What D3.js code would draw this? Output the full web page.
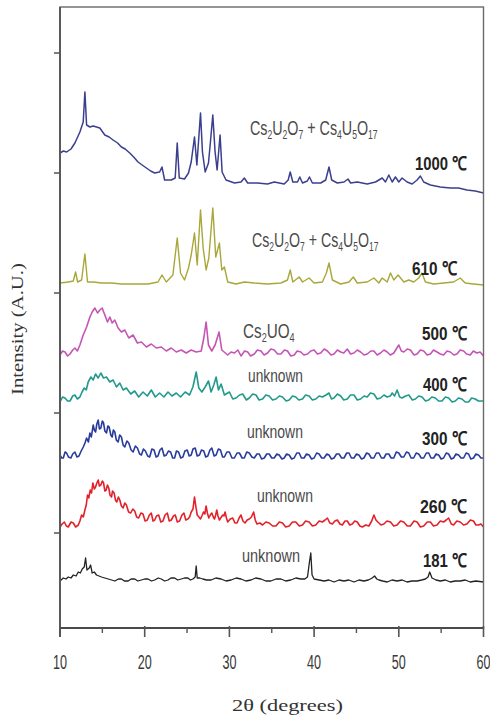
<!DOCTYPE html>
<html>
<head>
<meta charset="utf-8">
<script src="https://cdn.jsdelivr.net/npm/d3@7"></script>
<style>
  body { margin: 0; background: #fff; }
  svg { display: block; }
</style>
</head>
<body>
<div id="chart"></div>
<script>
// XRD patterns, 2theta (deg) vs intensity above each pattern's own baseline (a.u.)
var d1000 = [[10.0,32],[10.4,34],[10.78,33],[11.3,36],[11.76,42],[12.35,53],[12.74,63],[12.94,93],[13.14,60],[13.53,58],[13.92,59],[14.31,58],[14.7,57],[15.29,50],[15.8,48],[16.27,45],[16.8,42],[17.25,38],[17.7,36],[18.23,32],[18.7,28],[19.21,23],[19.7,20],[20.2,17],[20.7,14],[21.18,12],[21.76,13],[22.04,18],[22.35,5],[23.14,5],[23.6,7],[23.84,42],[24.08,7],[24.7,6],[25.17,12],[25.49,23],[25.88,48],[26.16,20],[26.35,43],[26.59,72],[26.82,33],[27.14,13],[27.53,22],[27.76,43],[28.04,70],[28.31,33],[28.55,15],[28.9,50],[29.14,13],[29.6,5],[30.6,2],[31.37,3],[31.76,7],[32.16,2],[33.33,2],[34.5,1],[35.3,3],[36.47,1],[36.94,5],[37.18,13],[37.49,3],[38.04,3],[38.31,8],[38.63,2],[39.2,4],[39.45,8],[39.8,2],[40.78,2],[41.37,5],[41.76,18],[42.08,5],[42.74,2],[43.53,3],[44.0,6],[44.31,2],[45.1,3],[46.27,1],[47.25,3],[48.04,7],[48.43,3],[48.82,10],[49.22,3],[49.6,8],[50.0,3],[50.39,7],[50.98,3],[51.57,1],[52.16,5],[52.55,9],[52.94,3],[53.73,0],[54.9,-2],[56.08,-3],[57.06,-3],[58.04,-5],[59.02,-6],[60,-8]];

var d610 = [[10.0,2],[10.98,3],[11.57,4],[11.84,13],[12.08,3],[12.55,5],[12.94,31],[13.25,3],[13.92,3],[14.9,2],[16.08,2],[17.25,1],[18.82,1],[20.39,1],[21.57,3],[22.04,10],[22.55,3],[23.33,10],[23.84,47],[24.23,12],[24.7,5],[25.17,17],[25.49,30],[25.88,52],[26.2,20],[26.59,75],[26.9,37],[27.25,15],[27.57,27],[28.04,77],[28.39,28],[28.82,42],[29.1,15],[29.41,18],[29.8,3],[30.78,1],[31.76,3],[32.94,2],[34.5,1],[36.08,2],[36.86,5],[37.18,15],[37.49,3],[38.24,8],[38.63,3],[39.41,7],[40.0,2],[40.98,3],[41.45,12],[41.76,22],[42.16,5],[43.14,1],[44.12,3],[44.63,8],[45.1,2],[46.27,3],[47.06,7],[47.65,2],[48.04,7],[48.63,3],[49.02,12],[49.41,5],[49.92,10],[50.59,3],[51.18,5],[51.76,3],[52.35,7],[52.74,12],[53.14,3],[54.12,1],[55.29,2],[56.47,3],[57.25,7],[57.84,2],[58.82,1],[60,0]];

var d500 = [[10.0,0],[10.3,4],[10.59,3],[10.9,-1],[11.18,1],[11.5,5],[11.76,7],[12.05,4],[12.35,10],[12.74,20],[13.14,28],[13.53,38],[13.8,43],[14.12,47],[14.43,42],[14.7,45],[14.98,47],[15.29,40],[15.61,33],[15.88,38],[16.16,32],[16.47,35],[16.86,27],[17.25,23],[17.65,25],[18.12,17],[18.63,20],[19.14,12],[19.61,13],[20.2,8],[20.78,11],[21.37,7],[21.96,8],[22.55,4],[23.14,7],[23.73,3],[24.31,5],[24.9,2],[25.49,5],[26.08,3],[26.67,4],[26.98,17],[27.25,33],[27.53,10],[27.92,4],[28.31,10],[28.78,23],[29.1,5],[29.8,0],[30.2,3],[30.59,2],[31.0,5],[31.37,-1],[31.8,4],[32.16,3],[32.5,-1],[32.94,1],[33.3,5],[33.73,4],[34.1,0],[34.5,2],[34.9,6],[35.29,5],[35.7,1],[36.08,1],[36.5,5],[36.86,4],[37.25,-1],[37.65,0],[38.0,4],[38.43,3],[38.8,0],[39.22,1],[39.6,4],[40.0,5],[40.4,1],[40.78,2],[41.2,6],[41.57,4],[42.0,0],[42.35,1],[42.75,5],[43.14,3],[43.5,2],[43.92,6],[44.3,1],[44.7,2],[45.1,5],[45.49,3],[45.9,0],[46.27,1],[46.7,4],[47.06,4],[47.45,0],[47.84,2],[48.25,5],[48.63,3],[49.0,0],[49.41,2],[49.7,6],[50.0,10],[50.3,4],[50.59,3],[51.0,6],[51.37,5],[51.8,0],[52.16,1],[52.55,5],[52.94,4],[53.35,0],[53.73,1],[54.1,5],[54.51,3],[54.9,1],[55.29,0],[55.7,4],[56.08,3],[56.5,0],[56.86,1],[57.25,5],[57.65,4],[58.0,1],[58.43,0],[58.8,4],[59.22,2],[59.6,3],[60,-1]];

var d400 = [[10.0,-2],[10.3,3],[10.59,2],[10.9,-1],[11.18,-1],[11.5,4],[11.76,5],[12.05,1],[12.35,3],[12.6,8],[12.86,12],[13.1,10],[13.33,18],[13.65,23],[13.92,20],[14.2,26],[14.51,22],[14.82,27],[15.14,22],[15.49,23],[15.88,18],[16.27,20],[16.67,13],[17.06,17],[17.45,10],[17.84,12],[18.35,6],[18.82,9],[19.29,3],[19.8,8],[20.31,4],[20.78,10],[21.25,3],[21.76,7],[22.27,3],[22.75,8],[23.22,4],[23.73,7],[24.23,3],[24.78,8],[25.29,5],[25.69,13],[26.08,28],[26.39,12],[26.75,8],[27.14,13],[27.53,19],[27.84,8],[28.16,15],[28.43,23],[28.71,10],[29.02,16],[29.41,5],[30.0,8],[30.4,1],[30.78,2],[31.2,5],[31.57,6],[32.0,0],[32.35,2],[32.75,6],[33.14,5],[33.5,0],[33.92,1],[34.3,5],[34.7,4],[35.1,0],[35.49,1],[35.9,4],[36.27,3],[36.7,-1],[37.06,0],[37.45,4],[37.84,3],[38.2,0],[38.63,1],[39.0,5],[39.41,4],[39.8,0],[40.2,1],[40.6,4],[40.98,3],[41.4,5],[41.76,7],[42.05,1],[42.35,2],[42.75,6],[43.14,4],[43.5,0],[43.92,1],[44.3,5],[44.71,5],[45.1,0],[45.49,1],[45.9,4],[46.27,3],[46.65,7],[47.06,6],[47.45,1],[47.84,2],[48.25,5],[48.63,3],[49.0,4],[49.22,7],[49.5,4],[49.8,10],[50.1,3],[50.39,2],[50.8,4],[51.18,5],[51.6,0],[51.96,1],[52.35,4],[52.75,3],[53.15,-1],[53.53,0],[53.9,3],[54.31,2],[54.7,-1],[55.1,-1],[55.5,3],[55.88,2],[56.3,-2],[56.67,-1],[57.05,2],[57.45,1],[57.85,-2],[58.24,-2],[58.6,2],[59.02,1],[59.4,-1],[60,-1]];

var d300 = [[10.0,2],[10.2,-1],[10.39,-1],[10.6,5],[10.78,4],[11.0,0],[11.29,-1],[11.5,3],[11.76,5],[12.0,0],[12.24,1],[12.5,6],[12.75,10],[12.95,14],[13.14,19],[13.35,15],[13.53,24],[13.7,20],[13.92,32],[14.05,27],[14.2,25],[14.35,33],[14.51,37],[14.65,28],[14.82,29],[15.0,36],[15.14,34],[15.3,26],[15.49,24],[15.65,31],[15.8,30],[16.0,22],[16.16,20],[16.3,27],[16.47,25],[16.65,17],[16.86,15],[17.05,22],[17.25,20],[17.45,12],[17.65,10],[17.9,16],[18.12,14],[18.4,7],[18.63,5],[18.9,11],[19.14,9],[19.4,3],[19.61,2],[19.85,8],[20.08,6],[20.35,1],[20.59,0],[20.85,8],[21.1,7],[21.35,0],[21.57,1],[21.8,7],[22.04,9],[22.3,1],[22.55,2],[22.8,6],[23.06,5],[23.3,-1],[23.53,-1],[23.75,6],[24.0,5],[24.25,-1],[24.51,0],[24.75,6],[25.02,7],[25.25,1],[25.49,2],[25.7,8],[25.96,9],[26.2,1],[26.47,2],[26.7,7],[26.98,6],[27.2,0],[27.45,1],[27.7,7],[27.92,9],[28.2,1],[28.43,2],[28.7,8],[28.94,7],[29.2,0],[29.41,0],[29.7,5],[30.0,5],[30.3,-1],[30.59,-1],[30.9,4],[31.18,4],[31.5,-1],[31.76,-1],[32.05,5],[32.35,4],[32.65,0],[32.94,-1],[33.25,3],[33.53,3],[33.8,-2],[34.12,-1],[34.4,3],[34.7,3],[35.0,-1],[35.29,-1],[35.6,3],[35.88,2],[36.2,-2],[36.47,-1],[36.75,3],[37.06,2],[37.35,-2],[37.65,-1],[37.95,4],[38.24,4],[38.5,-1],[38.82,-1],[39.1,3],[39.41,2],[39.7,-2],[40.0,-1],[40.3,4],[40.59,3],[40.9,-1],[41.18,-1],[41.5,3],[41.76,2],[42.05,-2],[42.35,-1],[42.65,3],[42.94,3],[43.25,-1],[43.53,-1],[43.85,4],[44.12,4],[44.4,-1],[44.71,-1],[45.0,3],[45.29,2],[45.6,-2],[45.88,-1],[46.2,4],[46.47,3],[46.75,-1],[47.06,-1],[47.35,4],[47.65,4],[47.95,-1],[48.24,-1],[48.5,3],[48.82,3],[49.1,-1],[49.41,-1],[49.7,5],[50.0,4],[50.3,0],[50.59,0],[50.9,5],[51.18,4],[51.45,-1],[51.76,-1],[52.05,4],[52.35,3],[52.65,-1],[52.94,-1],[53.25,4],[53.53,4],[53.8,-1],[54.12,-1],[54.4,3],[54.71,2],[55.0,-2],[55.29,-1],[55.6,4],[55.88,3],[56.2,-2],[56.47,-1],[56.75,3],[57.06,2],[57.35,-1],[57.65,-1],[57.95,4],[58.24,3],[58.5,-2],[58.82,-1],[59.1,3],[59.41,2],[59.7,-1],[60,-1]];

var d260 = [[10.0,0],[10.25,3],[10.51,5],[10.75,1],[10.98,0],[11.3,5],[11.57,4],[11.85,0],[12.16,2],[12.35,6],[12.55,12],[12.75,10],[12.94,17],[13.1,22],[13.25,32],[13.4,29],[13.57,37],[13.72,34],[13.88,44],[14.05,38],[14.2,40],[14.35,44],[14.51,47],[14.65,41],[14.82,42],[15.0,46],[15.14,44],[15.3,36],[15.45,37],[15.6,42],[15.76,39],[15.9,32],[16.08,30],[16.2,36],[16.39,34],[16.55,27],[16.7,25],[16.9,30],[17.06,27],[17.25,21],[17.45,19],[17.65,24],[17.84,22],[18.1,15],[18.35,14],[18.6,18],[18.82,16],[19.05,10],[19.29,9],[19.55,14],[19.8,13],[20.05,6],[20.31,7],[20.55,12],[20.78,14],[20.98,6],[21.18,7],[21.4,11],[21.65,12],[21.9,5],[22.16,6],[22.4,12],[22.67,14],[22.9,6],[23.14,7],[23.4,11],[23.61,12],[23.85,5],[24.12,6],[24.4,12],[24.63,14],[24.85,7],[25.1,8],[25.3,10],[25.49,15],[25.7,18],[25.88,30],[26.05,20],[26.2,12],[26.4,10],[26.59,8],[26.75,11],[26.94,15],[27.1,13],[27.25,21],[27.4,14],[27.57,9],[27.75,12],[27.92,14],[28.1,10],[28.24,8],[28.38,12],[28.51,17],[28.65,11],[28.82,7],[29.05,10],[29.22,12],[29.35,11],[29.49,15],[29.65,9],[29.8,5],[30.1,8],[30.39,9],[30.65,4],[30.9,4],[31.15,9],[31.37,12],[31.6,6],[31.84,4],[32.1,7],[32.35,8],[32.6,10],[32.86,15],[33.05,7],[33.25,3],[33.6,4],[33.92,2],[34.3,5],[34.7,4],[35.1,1],[35.49,1],[35.9,5],[36.27,4],[36.65,0],[37.06,1],[37.45,5],[37.84,5],[38.25,1],[38.63,2],[39.0,6],[39.41,5],[39.8,1],[40.2,2],[40.6,6],[40.98,5],[41.3,7],[41.57,9],[41.85,4],[42.16,3],[42.45,6],[42.75,7],[43.05,3],[43.33,2],[43.65,6],[43.92,6],[44.2,2],[44.51,3],[44.8,6],[45.1,5],[45.4,1],[45.69,0],[46.1,2],[46.47,1],[46.8,6],[47.06,12],[47.3,7],[47.53,5],[47.9,2],[48.24,3],[48.6,6],[49.02,5],[49.4,1],[49.8,2],[50.2,6],[50.59,5],[51.0,1],[51.37,1],[51.8,6],[52.16,5],[52.55,0],[52.94,1],[53.35,5],[53.73,5],[54.1,1],[54.51,2],[54.9,6],[55.29,5],[55.6,7],[55.88,9],[56.2,3],[56.47,2],[56.85,6],[57.25,5],[57.65,2],[58.04,3],[58.45,7],[58.82,6],[59.1,2],[59.41,2],[59.7,3],[60,0]];

var d181 = [[10.0,0],[10.39,3],[10.7,2],[10.98,4],[11.3,3],[11.57,6],[11.9,5],[12.16,9],[12.4,8],[12.63,12],[12.86,14],[13.02,23],[13.18,11],[13.45,13],[13.61,16],[13.8,8],[14.05,9],[14.31,6],[14.6,5],[14.9,4],[15.3,3],[15.69,2],[16.1,1],[16.47,0],[16.9,2],[17.25,2],[17.6,0],[18.04,0],[18.4,2],[18.82,2],[19.2,0],[19.61,1],[20.0,2],[20.39,2],[20.8,0],[21.18,1],[21.6,3],[21.96,2],[22.35,0],[22.75,1],[23.1,3],[23.53,3],[23.9,1],[24.31,2],[24.7,3],[25.1,3],[25.4,1],[25.69,2],[25.96,4],[26.08,15],[26.2,3],[26.5,3],[26.86,2],[27.3,1],[27.84,1],[28.4,3],[29.02,2],[29.6,0],[30.2,1],[30.8,3],[31.37,2],[31.95,0],[32.55,1],[33.1,3],[33.73,2],[34.3,0],[34.9,0],[35.5,2],[36.08,2],[36.65,0],[37.25,1],[37.85,3],[38.43,2],[38.9,2],[39.22,4],[39.45,19],[39.61,28],[39.76,6],[40.0,2],[40.6,1],[41.18,0],[41.75,1],[42.35,-1],[42.95,1],[43.53,0],[44.1,1],[44.71,-1],[45.3,1],[45.88,0],[46.4,1],[46.86,3],[47.14,5],[47.4,2],[47.65,1],[48.1,0],[48.63,-1],[49.2,1],[49.8,0],[50.4,1],[50.98,-1],[51.55,0],[52.16,0],[52.7,1],[53.14,2],[53.45,4],[53.65,9],[53.92,3],[54.4,1],[54.9,0],[55.5,1],[56.08,-1],[56.65,0],[57.25,0],[57.85,1],[58.43,-1],[59.1,0],[60,-1]];

var series = [d1000, d610, d500, d400, d300, d260, d181];
var temperatures = ["1000 \u2103", "610 \u2103", "500 \u2103", "400 \u2103", "300 \u2103", "260 \u2103", "181 \u2103"];
var phases = ["Cs2U2O7 + Cs4U5O17", "Cs2U2O7 + Cs4U5O17", "Cs2UO4", "unknown", "unknown", "unknown", "unknown"];
// vertical stacking offset of each pattern (a.u.)
var offsets = [348, 248, 178, 133, 76, 6, -48];
var xTicks = [10, 20, 30, 40, 50, 60];
var xMinorTicks = [15, 25, 35, 45, 55];
var yTicks = [0, 120, 240, 360, 480];

var colors = ["#3b3f8e", "#a9a73a", "#c455b3", "#21998b", "#293c9b", "#e2222b", "#222222"];
var strokeW = [1.5, 1.4, 1.6, 1.6, 1.6, 1.6, 1.3];

// label placement: temperature right edge / baseline / width, phase left / baseline / width
var labelLayout = [
    {tx: 467, ty: 170, tw: 52, px: 250, py: 135, pw: 128},
    {tx: 457, ty: 275, tw: 45, px: 252, py: 247, pw: 127},
    {tx: 467, ty: 340, tw: 45, px: 243, py: 338, pw: 52},
    {tx: 467, ty: 391, tw: 44, px: 248, py: 382, pw: 55},
    {tx: 467, ty: 445, tw: 45, px: 247, py: 438, pw: 56},
    {tx: 467, ty: 513, tw: 47, px: 257, py: 502, pw: 56},
    {tx: 467, ty: 567, tw: 44, px: 242, py: 562, pw: 58}
];

var width = 490, height = 716;
var margin = {top: 7, right: 6.5, bottom: 88, left: 60};

var svg = d3.select("#chart").append("svg")
    .attr("width", width)
    .attr("height", height);

var x = d3.scaleLinear()
    .domain([10, 60])
    .range([margin.left, width - margin.right]);

var y = d3.scaleLinear()
    .domain([-95, 526])
    .range([height - margin.bottom, margin.top]);

// squeeze a text group horizontally so it fills a given width
function fitText(g, left, baseline, targetW) {
    var box = g.node().getBBox();
    var s = targetW / box.width;
    g.attr("transform", "translate(" + (left - box.x * s) + "," + baseline + ") scale(" + s + ",1)");
}

// traces
var line = d3.line()
    .x(function(d) { return x(d[0]); })
    .y(function(d) { return y(d[1]); });

series.forEach(function(s, i) {
    svg.append("path")
        .datum(s.map(function(d) { return [d[0], d[1] + offsets[i]]; }))
        .attr("fill", "none")
        .attr("stroke", colors[i])
        .attr("stroke-width", strokeW[i])
        .attr("stroke-linejoin", "round")
        .attr("d", line);
});

// frame
var x0 = x(10), x1 = x(60), y0 = y.range()[0], y1 = y.range()[1];
svg.append("rect")
    .attr("x", x0).attr("y", y1)
    .attr("width", x1 - x0).attr("height", y0 - y1)
    .attr("fill", "none")
    .attr("stroke", "#6a6a6a")
    .attr("stroke-width", 1.4);
svg.append("line")
    .attr("x1", x0).attr("x2", x0).attr("y1", y1).attr("y2", y0 + 9)
    .attr("stroke", "#5a5a5a").attr("stroke-width", 2);
svg.append("line")
    .attr("x1", x0).attr("x2", x1).attr("y1", y0).attr("y2", y0)
    .attr("stroke", "#4a4a4a").attr("stroke-width", 2);

// x axis ticks
svg.selectAll(".xmajor").data(xTicks).enter().append("line")
    .attr("class", "xmajor")
    .attr("x1", function(d) { return x(d); }).attr("x2", function(d) { return x(d); })
    .attr("y1", y0 - 2).attr("y2", y0 + 9)
    .attr("stroke", "#555").attr("stroke-width", 1.6);
svg.selectAll(".xminor").data(xMinorTicks).enter().append("line")
    .attr("class", "xminor")
    .attr("x1", function(d) { return x(d); }).attr("x2", function(d) { return x(d); })
    .attr("y1", y0).attr("y2", y0 + 5)
    .attr("stroke", "#555").attr("stroke-width", 1.4);

xTicks.forEach(function(t) {
    var g = svg.append("g");
    g.append("text")
        .attr("font-family", "'Liberation Sans', Arial, sans-serif")
        .attr("font-size", 21)
        .attr("fill", "#3a3a3a")
        .text(t);
    fitText(g, x(t) - 7, 669, 14);
});

// y axis ticks (no labels)
svg.selectAll(".ytick").data(yTicks).enter().append("line")
    .attr("class", "ytick")
    .attr("x1", x0 - 6).attr("x2", x0)
    .attr("y1", function(d) { return y(d); }).attr("y2", function(d) { return y(d); })
    .attr("stroke", "#555").attr("stroke-width", 1.5);

// axis titles
var xt = svg.append("g");
xt.append("text")
    .attr("font-family", "'Liberation Serif', 'DejaVu Serif', serif")
    .attr("font-size", 16)
    .attr("fill", "#333")
    .text("2\u03b8 (degrees)");
fitText(xt, 232, 711, 111);

var yt = svg.append("g").attr("transform", "translate(23,395) rotate(-90)");
var ytIn = yt.append("g");
ytIn.append("text")
    .attr("font-family", "'Liberation Serif', 'DejaVu Serif', serif")
    .attr("font-size", 16)
    .attr("fill", "#333")
    .text("Intensity (A.U.)");
fitText(ytIn, 0, 0, 132);

// phase labels with subscripts
phases.forEach(function(p, i) {
    var L = labelLayout[i];
    var formula = p !== "unknown";
    var g = svg.append("g");
    var t = g.append("text")
        .attr("font-family", "'Liberation Sans', Arial, sans-serif")
        .attr("font-size", formula ? 20 : 18)
        .attr("fill", "#4a4a4a");
    var parts = p.match(/\d+|\D+/g);
    var sub = false;
    parts.forEach(function(part) {
        var isDigit = /^\d+$/.test(part);
        var ts = t.append("tspan").text(part);
        if (isDigit && formula) {
            ts.attr("font-size", 12).attr("dy", sub ? 0 : 4);
            sub = true;
        } else {
            if (sub) ts.attr("dy", -4);
            sub = false;
        }
    });
    fitText(g, L.px, L.py, L.pw);
});

// temperature labels
temperatures.forEach(function(tl, i) {
    var L = labelLayout[i];
    var g = svg.append("g");
    g.append("text")
        .attr("font-family", "'Liberation Sans', Arial, sans-serif")
        .attr("font-weight", "bold")
        .attr("font-size", 19)
        .attr("fill", "#222")
        .text(tl);
    fitText(g, L.tx - L.tw, L.ty, L.tw);
});
</script>
</body>
</html>
